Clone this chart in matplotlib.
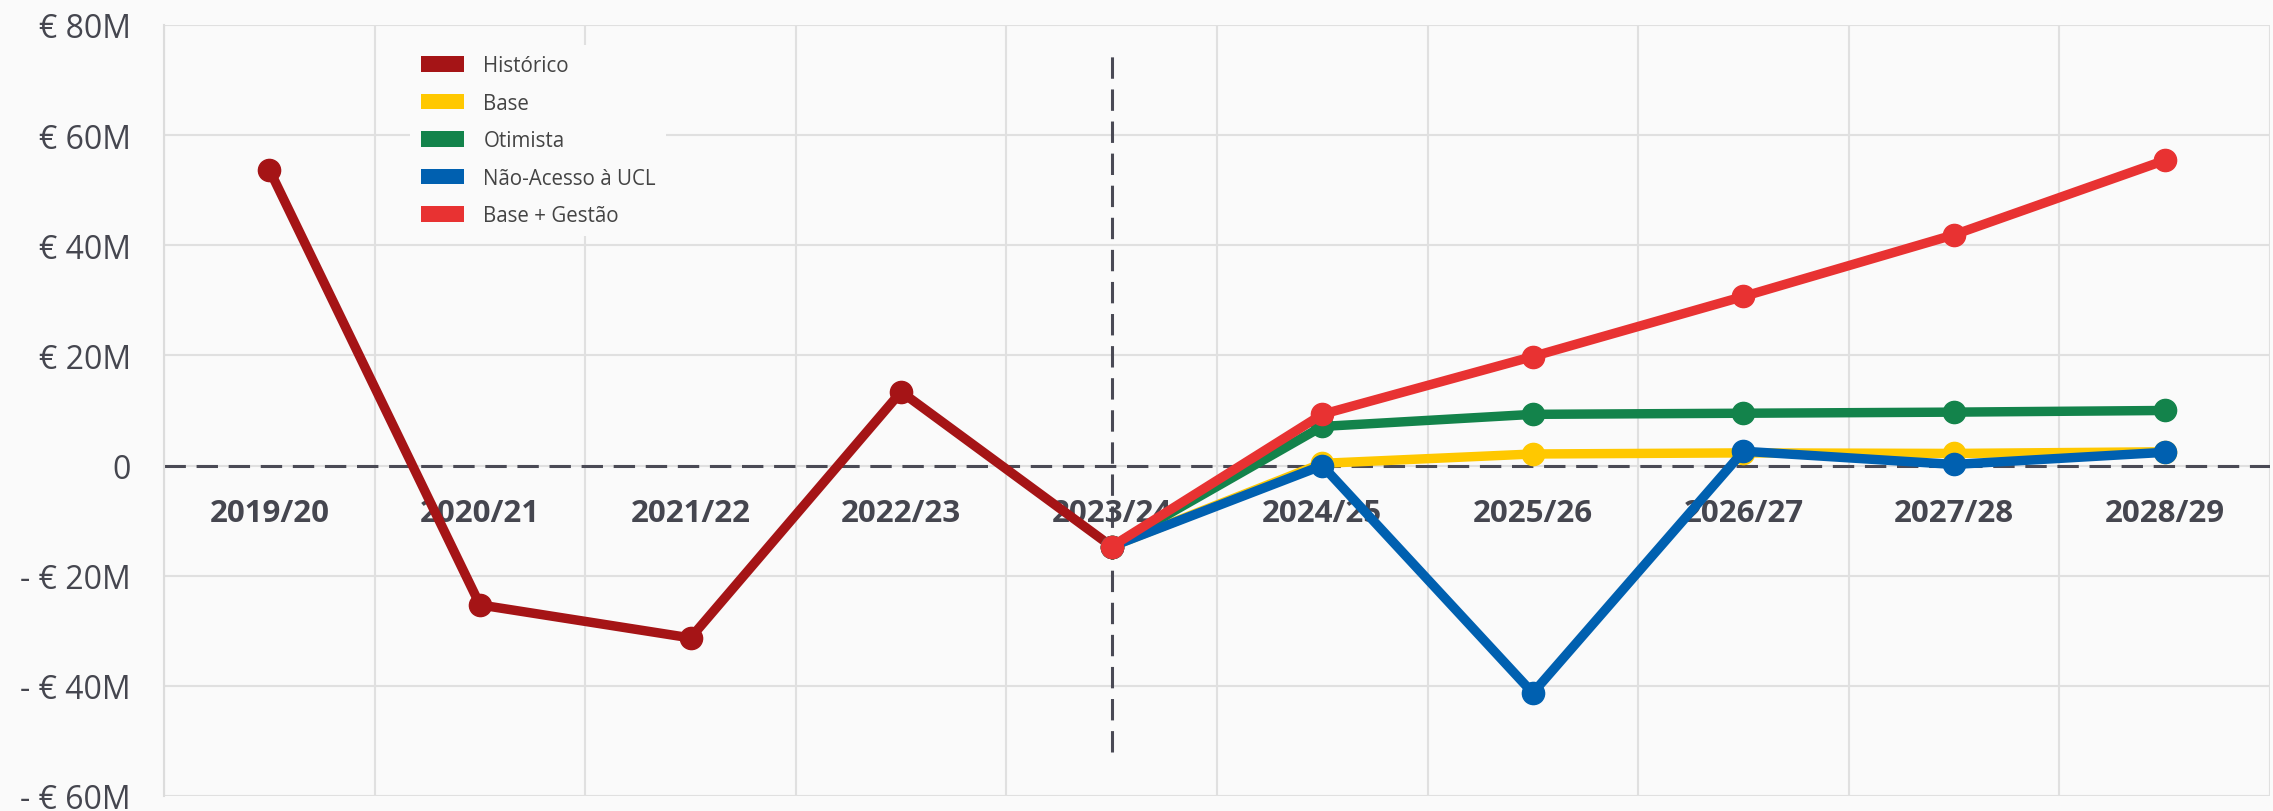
import matplotlib
matplotlib.use("Agg")
import matplotlib.pyplot as plt
from matplotlib.patches import Patch

# ---- data ----
categories = ["2019/20", "2020/21", "2021/22", "2022/23", "2023/24",
              "2024/25", "2025/26", "2026/27", "2027/28", "2028/29"]
historico = [53.7, -25.3, -31.3, 13.4, -14.7]
forecast_cats = ["2023/24", "2024/25", "2025/26", "2026/27", "2027/28", "2028/29"]
base = [-14.7, 0.4, 2.1, 2.3, 2.2, 2.5]
otimista = [-14.7, 7.1, 9.3, 9.5, 9.7, 10.0]
nao_acesso = [-14.7, 0.0, -41.3, 2.6, 0.2, 2.4]
base_gestao = [-14.7, 9.3, 19.8, 30.7, 41.9, 55.4]
y_ticks = [-60, -40, -20, 0, 20, 40, 60, 80]
y_tick_labels = ["- € 60M", "- € 40M", "- € 20M", "0", "€ 20M", "€ 40M", "€ 60M", "€ 80M"]

series = [
    ("Histórico", categories[:5], historico, "#a51416"),
    ("Base", forecast_cats, base, "#ffc800"),
    ("Otimista", forecast_cats, otimista, "#13834b"),
    ("Não-Acesso à UCL", forecast_cats, nao_acesso, "#0060b0"),
    ("Base + Gestão", forecast_cats, base_gestao, "#e83232"),
]

BG = "#fafafa"
TXT = "#45464f"
plt.rcParams['font.family'] = ['Open Sans', 'DejaVu Sans']

fig = plt.figure(figsize=(22.73, 8.12), dpi=100, facecolor=BG)
ax = fig.add_axes([0.0722, 0.0185, 0.9264, 0.9495], facecolor=BG)

idx = {c: i for i, c in enumerate(categories)}
for name, cats, vals, col in series:
    xs = [idx[c] for c in cats]
    ax.plot(xs, vals, color=col, lw=6.8, marker='o', markersize=16,
            solid_capstyle='butt', zorder=3)

ax.set_xlim(-0.5, len(categories) - 0.5)
ax.set_ylim(y_ticks[0], y_ticks[-1])

# gridlines at category boundaries
ax.set_xticks([i - 0.5 for i in range(len(categories) + 1)])
ax.set_xticklabels([])
ax.set_yticks(y_ticks)
ax.set_yticklabels(y_tick_labels)
ax.grid(True, color="#e0e0e0", lw=1.5, zorder=0)
ax.tick_params(axis='both', length=0, colors=TXT)
ax.tick_params(axis='y', labelsize=23, pad=24)
for s in ["top", "right", "bottom"]:
    ax.spines[s].set_visible(False)
ax.spines["left"].set_color("#dcdcdc")
ax.spines["left"].set_linewidth(1.5)

# zero line & divider
ax.axhline(0, color="#4a4a55", lw=2.2, linestyle=(0, (7, 3.5)), zorder=2)
ax.plot([idx["2023/24"], idx["2023/24"]], [-52, 74.4], color="#4a4a55", lw=2.2,
        linestyle=(0, (7, 3.5)), zorder=2)

# category labels near zero line
for i, c in enumerate(categories):
    ax.text(i, -8.6, c, ha='center', va='center', fontsize=22.5, fontweight='bold',
            color=TXT, zorder=2.5)

handles = [Patch(facecolor=col, edgecolor='none', label=name) for name, _, _, col in series]
leg = fig.legend(handles=handles, loc='upper left', bbox_to_anchor=(0.176, 0.956),
                 frameon=True, facecolor=BG, edgecolor='none', framealpha=1,
                 fontsize=14.8, handlelength=2.1, handleheight=0.78,
                 handletextpad=0.95, labelspacing=0.8, borderpad=0.5)
for t in leg.get_texts():
    t.set_color("#444444")

fig.savefig("out.png", dpi=100, facecolor=BG)
